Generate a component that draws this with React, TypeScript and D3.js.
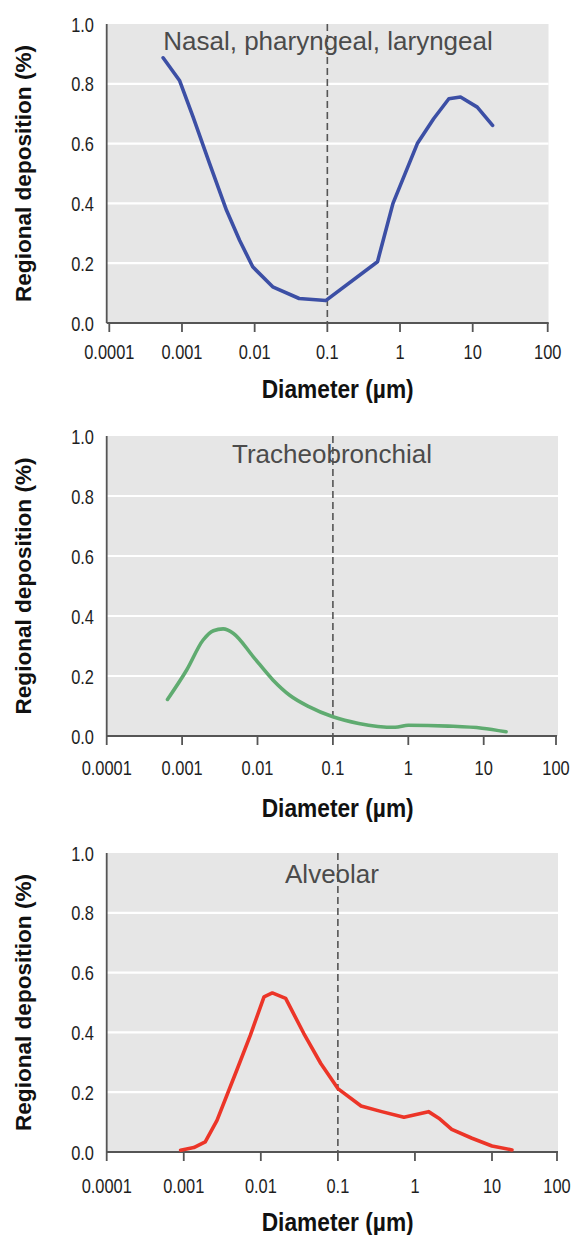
import React, { useEffect, useRef } from 'react';
import * as d3 from 'd3';

// values (diameter in µm, deposition fraction)
const nasalDiameter = [0.00055, 0.00093, 0.00142, 0.0024, 0.0041, 0.0062, 0.0094, 0.0177, 0.041, 0.095, 0.49, 0.8, 1.73, 2.9, 4.7, 6.8, 11.5, 18.4];
const nasalDeposition = [0.887, 0.81, 0.689, 0.533, 0.377, 0.277, 0.188, 0.121, 0.082, 0.075, 0.205, 0.4, 0.6, 0.683, 0.75, 0.756, 0.722, 0.661];

const trachDiameter = [0.00064, 0.00115, 0.0019, 0.0026, 0.0035, 0.0048, 0.0088, 0.016, 0.027, 0.048, 0.1, 0.22, 0.67, 1.0, 3.4, 9.5, 20.4];
const trachDeposition = [0.122, 0.22, 0.32, 0.351, 0.357, 0.342, 0.264, 0.187, 0.135, 0.098, 0.064, 0.042, 0.029, 0.036, 0.033, 0.026, 0.014];

const alvDiameter = [0.00091, 0.00135, 0.0019, 0.0027, 0.0049, 0.0073, 0.011, 0.0141, 0.021, 0.036, 0.06, 0.1, 0.2, 0.37, 0.72, 1.5, 2.04, 3.0, 5.5, 10, 20.3];
const alvDeposition = [0.006, 0.015, 0.034, 0.106, 0.275, 0.39, 0.519, 0.532, 0.514, 0.397, 0.296, 0.212, 0.154, 0.135, 0.116, 0.135, 0.113, 0.076, 0.046, 0.02, 0.007];

const panelTitles = ['Nasal, pharyngeal, laryngeal', 'Tracheobronchial', 'Alveolar'];
const lineColors = ['#3c4fa5', '#5fab70', '#ec3528'];
const xTickValues = [0.0001, 0.001, 0.01, 0.1, 1, 10, 100];
const xTickLabels = ['0.0001', '0.001', '0.01', '0.1', '1', '10', '100'];
const yTickValues = [0, 0.2, 0.4, 0.6, 0.8, 1.0];
const cutoffDiameter = 0.1;

// pixel placement of each panel (the scanned figure is not perfectly regular)
const layout = [
  { top: 24, bottom: 323, left: 106.7, right: 548.5, xAnchors: [109.3, 472.7, 547.7], labelX: 328, labelY: 50, tickY: 359, titleY: 398 },
  { top: 436, bottom: 736, left: 106.7, right: 558, xAnchors: [106.7, 483.7, 556], labelX: 332, labelY: 463, tickY: 775, titleY: 817 },
  { top: 853, bottom: 1152, left: 106.7, right: 558, xAnchors: [106.7, 492, 557], labelX: 332, labelY: 883, tickY: 1193, titleY: 1231 },
];

const font = "'Liberation Sans', Arial, sans-serif";
const condense = 0.8;

const App = () => {
  const ref = useRef<SVGSVGElement | null>(null);

  useEffect(() => {
    if (!ref.current) return;
    const svg = d3.select(ref.current);
    svg.selectAll('*').remove();

    const series = [
      { xs: nasalDiameter, ys: nasalDeposition, curve: d3.curveLinear },
      { xs: trachDiameter, ys: trachDeposition, curve: d3.curveMonotoneX },
      { xs: alvDiameter, ys: alvDeposition, curve: d3.curveLinear },
    ];

    layout.forEach((p, i) => {
      const x = d3.scaleLog().domain([1e-4, 10, 100]).range(p.xAnchors);
      const y = d3.scaleLinear().domain([0, 1]).range([p.bottom, p.top]);
      const g = svg.append('g');

      // grey plot area
      g.append('rect')
        .attr('x', p.left).attr('y', p.top)
        .attr('width', p.right - p.left).attr('height', p.bottom - p.top)
        .attr('fill', '#e6e6e6');

      // white gridlines
      g.selectAll('.grid')
        .data(yTickValues.filter(v => v > 0 && v < 1))
        .enter().append('line')
        .attr('x1', p.left).attr('x2', p.right)
        .attr('y1', d => y(d)).attr('y2', d => y(d))
        .attr('stroke', '#ffffff').attr('stroke-width', 2.2);

      // y tick labels (condensed look)
      g.selectAll('.ylab')
        .data(yTickValues)
        .enter().append('text')
        .attr('transform', d => `translate(94,${y(d) + 7.5}) scale(${condense},1)`)
        .attr('text-anchor', 'end')
        .attr('font-family', font).attr('font-size', 20.5)
        .attr('fill', '#1e1e1e')
        .text(d => d.toFixed(1));

      // axes
      g.append('line')
        .attr('x1', p.left).attr('x2', p.left)
        .attr('y1', p.top).attr('y2', p.bottom)
        .attr('stroke', '#555').attr('stroke-width', 1.8);
      g.append('line')
        .attr('x1', p.left).attr('x2', x(100) + 1)
        .attr('y1', p.bottom).attr('y2', p.bottom)
        .attr('stroke', '#555').attr('stroke-width', 1.8);

      g.selectAll('.xtick')
        .data(xTickValues)
        .enter().append('line')
        .attr('x1', d => x(d)).attr('x2', d => x(d))
        .attr('y1', p.bottom).attr('y2', p.bottom + 9)
        .attr('stroke', '#555').attr('stroke-width', 1.8);

      g.selectAll('.xlab')
        .data(xTickValues)
        .enter().append('text')
        .attr('transform', d => `translate(${x(d)},${p.tickY}) scale(${condense},1)`)
        .attr('text-anchor', 'middle')
        .attr('font-family', font).attr('font-size', 20.5)
        .attr('fill', '#1e1e1e')
        .text((d, j) => xTickLabels[j]);

      // dashed line at 0.1 µm
      g.append('line')
        .attr('x1', x(cutoffDiameter)).attr('x2', x(cutoffDiameter))
        .attr('y1', p.top).attr('y2', p.bottom)
        .attr('stroke', '#555').attr('stroke-width', 1.6)
        .attr('stroke-dasharray', '7,4');

      // region label
      g.append('text')
        .attr('x', p.labelX).attr('y', p.labelY)
        .attr('text-anchor', 'middle')
        .attr('font-family', font).attr('font-size', 26)
        .attr('fill', '#4b4b4b')
        .text(panelTitles[i]);

      // curve
      const s = series[i];
      const pts = s.xs.map((d, j) => [d, s.ys[j]] as [number, number]);
      const line = d3.line<[number, number]>()
        .x(d => x(d[0]))
        .y(d => y(d[1]))
        .curve(s.curve);
      g.append('path')
        .attr('d', line(pts))
        .attr('fill', 'none')
        .attr('stroke', lineColors[i])
        .attr('stroke-width', 3.6)
        .attr('stroke-linejoin', 'round')
        .attr('stroke-linecap', 'round');

      // axis titles
      g.append('text')
        .attr('transform', `translate(31,${(p.top + p.bottom) / 2}) rotate(-90)`)
        .attr('text-anchor', 'middle')
        .attr('font-family', font).attr('font-weight', 'bold').attr('font-size', 22)
        .attr('textLength', 257).attr('lengthAdjust', 'spacingAndGlyphs')
        .attr('fill', '#111')
        .text('Regional deposition (%)');

      g.append('text')
        .attr('x', 337.7).attr('y', p.titleY)
        .attr('text-anchor', 'middle')
        .attr('font-family', font).attr('font-weight', 'bold').attr('font-size', 25)
        .attr('textLength', 152).attr('lengthAdjust', 'spacingAndGlyphs')
        .attr('fill', '#111')
        .text('Diameter (µm)');
    });
  }, []);

  return (
    <svg
      ref={ref}
      width={572}
      height={1235}
      style={{ position: 'absolute', left: 0, top: 0, background: '#fff', display: 'block' }}
    />
  );
};

export default App;
